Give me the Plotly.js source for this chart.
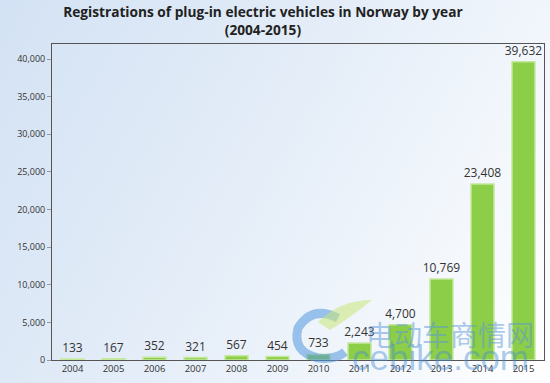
<!DOCTYPE html>
<html><head><meta charset="utf-8">
<script src="https://cdn.plot.ly/plotly-3.0.1.min.js"></script>
<style>
html,body{margin:0;padding:0;}
#chart{width:550px;height:383px;background:linear-gradient(120deg,#d3e2f4 0%,#e4edf8 45%,#ffffff 100%);}
</style></head><body>
<div id="chart"></div>
<script>
const years = ['2004','2005','2006','2007','2008','2009','2010','2011','2012','2013','2014','2015'];
const registrations = [133,167,352,321,567,454,733,2243,4700,10769,23408,39632];
const valueLabels = ['133','167','352','321','567','454','733','2,243','4,700','10,769','23,408','39,632'];
const yTicks = [0,5000,10000,15000,20000,25000,30000,35000,40000];
const yTickLabels = ['0','5,000','10,000','15,000','20,000','25,000','30,000','35,000','40,000'];

const trace = {
  type:'bar', x:years, y:registrations,
  text:valueLabels, textposition:'outside', cliponaxis:false, constraintext:'none',
  textfont:{family:'Open Sans, sans-serif', size:12, color:'#333'},
  marker:{color:'#8cce48', line:{color:'#c4e89c', width:1.5}},
  width:0.56, hoverinfo:'skip'
};
const L = 52, R = 6, T = 44, B = 23, W = 550, H = 383;
const pw = W-L-R, ph = H-T-B;
const px = x => (x-L)/pw, py = y => 1-(y-T)/ph;
const layout = {
  width:W, height:H,
  paper_bgcolor:'rgba(0,0,0,0)',
  plot_bgcolor:'rgba(0,0,0,0)',
  margin:{l:L, r:R, t:T, b:B},
  title:{text:'<b>Registrations of plug-in electric vehicles in Norway by year<br>(2004-2015)</b>',
    font:{family:'Open Sans, sans-serif', size:13.7, color:'#222'}, x:0.478, xanchor:'center', y:0.955, yanchor:'top'},
  showlegend:false,
  xaxis:{type:'category', showline:true, linecolor:'#555', linewidth:1, mirror:true, ticks:'',
    tickfont:{family:'Open Sans, sans-serif', size:9.5, color:'#333'}, showgrid:false, zeroline:false},
  yaxis:{range:[0,42000], tickvals:yTicks, ticktext:yTickLabels, ticks:'outside', ticklen:4, tickcolor:'#999',
    showline:true, linecolor:'#555', linewidth:1, mirror:true, showgrid:false, zeroline:false,
    tickfont:{family:'Open Sans, sans-serif', size:9, color:'#333'}},
  shapes:[
    {type:'path', xref:'paper', yref:'paper', layer:'above',
     path:`M ${px(338)} ${py(318)} Q ${px(312)} ${py(305)} ${px(298)} ${py(328)} Q ${px(292)} ${py(352)} ${px(318)} ${py(358)} Q ${px(335)} ${py(360)} ${px(345)} ${py(352)}`,
     line:{color:'rgba(80,150,220,0.55)', width:9}},
    {type:'path', xref:'paper', yref:'paper', layer:'above',
     path:`M ${px(318)} ${py(322)} Q ${px(340)} ${py(300)} ${px(372)} ${py(300)} Q ${px(350)} ${py(318)} ${px(330)} ${py(330)} Z`,
     fillcolor:'rgba(200,230,120,0.55)', line:{width:0}}
  ],
  annotations:[
    {text:'电动车商情网', x:px(450), y:py(334), xref:'paper', yref:'paper', xanchor:'center', yanchor:'middle', showarrow:false,
     font:{family:'Noto Sans CJK SC', size:28, color:'rgba(90,150,215,0.5)'}},
    {text:'cebike.com', x:px(440), y:py(357), xref:'paper', yref:'paper', xanchor:'center', yanchor:'middle', showarrow:false,
     font:{family:'Liberation Sans, sans-serif', size:35, color:'rgba(70,140,210,0.45)'}}
  ]
};
Plotly.newPlot('chart',[trace],layout,{displayModeBar:false, staticPlot:true});
</script>
</body></html>
